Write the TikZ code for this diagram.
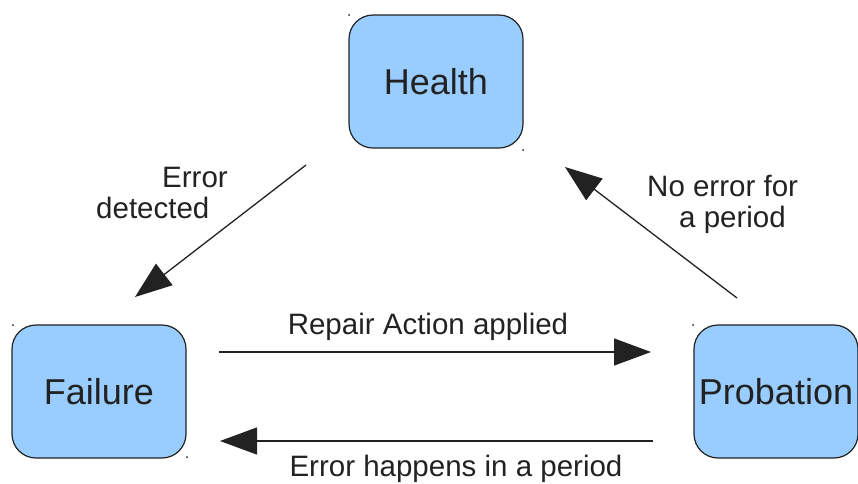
\documentclass[tikz,border=0pt]{standalone}
\usepackage{fontspec}
\setmainfont{Liberation Sans}
\usetikzlibrary{arrows.meta}
\definecolor{stateblue}{HTML}{99CCFF}
\definecolor{ink}{HTML}{222222}
\begin{document}
\begin{tikzpicture}[x=1pt,y=-1pt,
  state/.style={draw=ink, line width=1.2pt, fill=stateblue, rounded corners=24pt,
    minimum width=174pt, minimum height=133pt, inner sep=0pt,
    font=\fontsize{36}{42}\selectfont, text=ink},
  flow/.style={draw=ink, line width=1.3pt, -{Triangle[length=37pt,width=27pt]}},
  lbl/.style={inner sep=0pt, font=\fontsize{29.5}{31}\selectfont, text=ink},
  handle/.style={fill=ink, draw=none}
]
\useasboundingbox (0,0) rectangle (858,483);
\clip (0,0) rectangle (858,483);

% the three states
\node[state] (health)    at (436,81.5)  {Health};
\node[state] (failure)   at (99,391.5)  {Failure};
\node[state, minimum width=164pt] (probation) at (776,391.5) {Probation};

% selection handles at the box corners
\foreach \p in {(349,15),(523,150),(13,325),(187,457),(693,325)}
  \fill[handle] \p circle (1pt);

% free ends of the transitions
\coordinate (detS) at (306,165);
\coordinate (detE) at (135,297);
\coordinate (okS)  at (737,298);
\coordinate (okE)  at (565,167);
\coordinate (repS) at (219,352);
\coordinate (repE) at (651,352);
\coordinate (errS) at (653,441);
\coordinate (errE) at (220,441);

% transitions
\draw[flow] (detS) -- (detE);
\draw[flow] (okS)  -- (okE);
\draw[flow] (repS) -- (repE);
\draw[flow] (errS) -- (errE);

% transition labels (base anchor sits on the last line)
\node[lbl, anchor=base west, align=left] (detL) at (96,218)
  {\hspace*{66pt}Error\\detected};
\node[lbl, anchor=base west, align=left] (okL) at (647,227)
  {No error for\\\hspace*{32pt}a period};
\node[lbl, anchor=base] (repL) at (428,334) {Repair Action applied};
\node[lbl, anchor=base] (errL) at (456,476) {Error happens in a period};
\end{tikzpicture}
\end{document}
